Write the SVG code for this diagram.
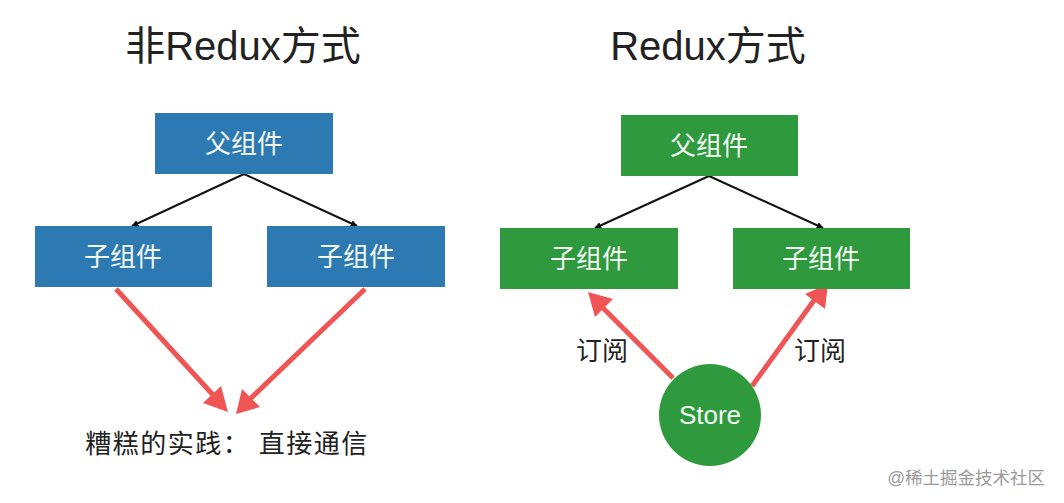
<svg xmlns="http://www.w3.org/2000/svg" width="1064" height="503" viewBox="0 0 1064 503">
<style>
.title{font-family:"Liberation Sans","Noto Sans CJK SC",sans-serif;font-size:40px;fill:#222;}
.lbl{font-family:"Liberation Sans","Noto Sans CJK SC",sans-serif;font-size:26px;fill:#f4f8f4;}
.txt{font-family:"Liberation Sans","Noto Sans CJK SC",sans-serif;font-size:26px;fill:#222;}
.blue{fill:#2d7ab3;}
.green{fill:#2f9a3d;}
.blk{stroke:#111;stroke-width:2;fill:none;marker-end:url(#ah);}
.red{stroke:#ef5555;stroke-width:5;fill:none;}
.redhead{fill:#ef5555;}
.wm{font-family:"Liberation Sans","Noto Sans CJK SC",sans-serif;font-size:17.5px;fill:#9a9a9a;}
</style>
<defs>
<marker id="ah" viewBox="0 0 10 10" refX="9" refY="5" markerWidth="7" markerHeight="7" markerUnits="userSpaceOnUse" orient="auto">
<path d="M0,0 L10,5 L0,10 z" fill="#111"/>
</marker>
</defs>
<rect width="1064" height="503" fill="#fff"/>
<text class="title" x="243" y="60" text-anchor="middle">非Redux方式</text>
<text class="title" x="708" y="60" text-anchor="middle">Redux方式</text>

<g id="connectors">
<line class="blk" x1="244" y1="174" x2="132" y2="226"/>
<line class="blk" x1="244" y1="174" x2="357" y2="226"/>
<line class="blk" x1="709" y1="176" x2="595" y2="228"/>
<line class="blk" x1="709" y1="176" x2="823" y2="228"/>
<g id="red-arrows">
<line class="red" x1="116" y1="289" x2="214" y2="396"/>
<polygon class="redhead" points="228,412 203,403 221,386"/>
<line class="red" x1="365" y1="289" x2="250" y2="399"/>
<polygon class="redhead" points="236,414 242,389 260,407"/>
<line class="red" x1="673" y1="378" x2="601" y2="306"/>
<polygon class="redhead" points="588,292 613,299 595,317"/>
<line class="red" x1="752" y1="386" x2="815" y2="299"/>
<polygon class="redhead" points="828,284 825,309 805,294"/>
</g>
</g>

<g id="parent-left"><rect class="blue" x="155" y="113" width="178" height="61"/><text class="lbl" x="244" y="153" text-anchor="middle">父组件</text></g>
<g id="child-left-1"><rect class="blue" x="35" y="226" width="177" height="61"/><text class="lbl" x="123" y="266" text-anchor="middle">子组件</text></g>
<g id="child-left-2"><rect class="blue" x="267" y="226" width="178" height="61"/><text class="lbl" x="356" y="266" text-anchor="middle">子组件</text></g>
<g id="bad-practice"><text class="txt" x="227" y="453" text-anchor="middle" letter-spacing="1.5">糟糕的实践： 直接通信</text></g>

<g id="parent-right"><rect class="green" x="621" y="115" width="177" height="61"/><text class="lbl" x="709" y="155" text-anchor="middle">父组件</text></g>
<g id="child-right-1"><rect class="green" x="500" y="228" width="178" height="61"/><text class="lbl" x="589" y="268" text-anchor="middle">子组件</text></g>
<g id="child-right-2"><rect class="green" x="733" y="228" width="177" height="61"/><text class="lbl" x="821" y="268" text-anchor="middle">子组件</text></g>
<g id="store"><circle class="green" cx="710" cy="415" r="51"/><text class="lbl" x="710" y="424" text-anchor="middle">Store</text></g>
<g id="sub-labels">
<text class="txt" x="602" y="360" text-anchor="middle">订阅</text>
<text class="txt" x="820" y="360" text-anchor="middle">订阅</text>
</g>
<text class="wm" x="1045" y="484" text-anchor="end">@稀土掘金技术社区</text>
</svg>
